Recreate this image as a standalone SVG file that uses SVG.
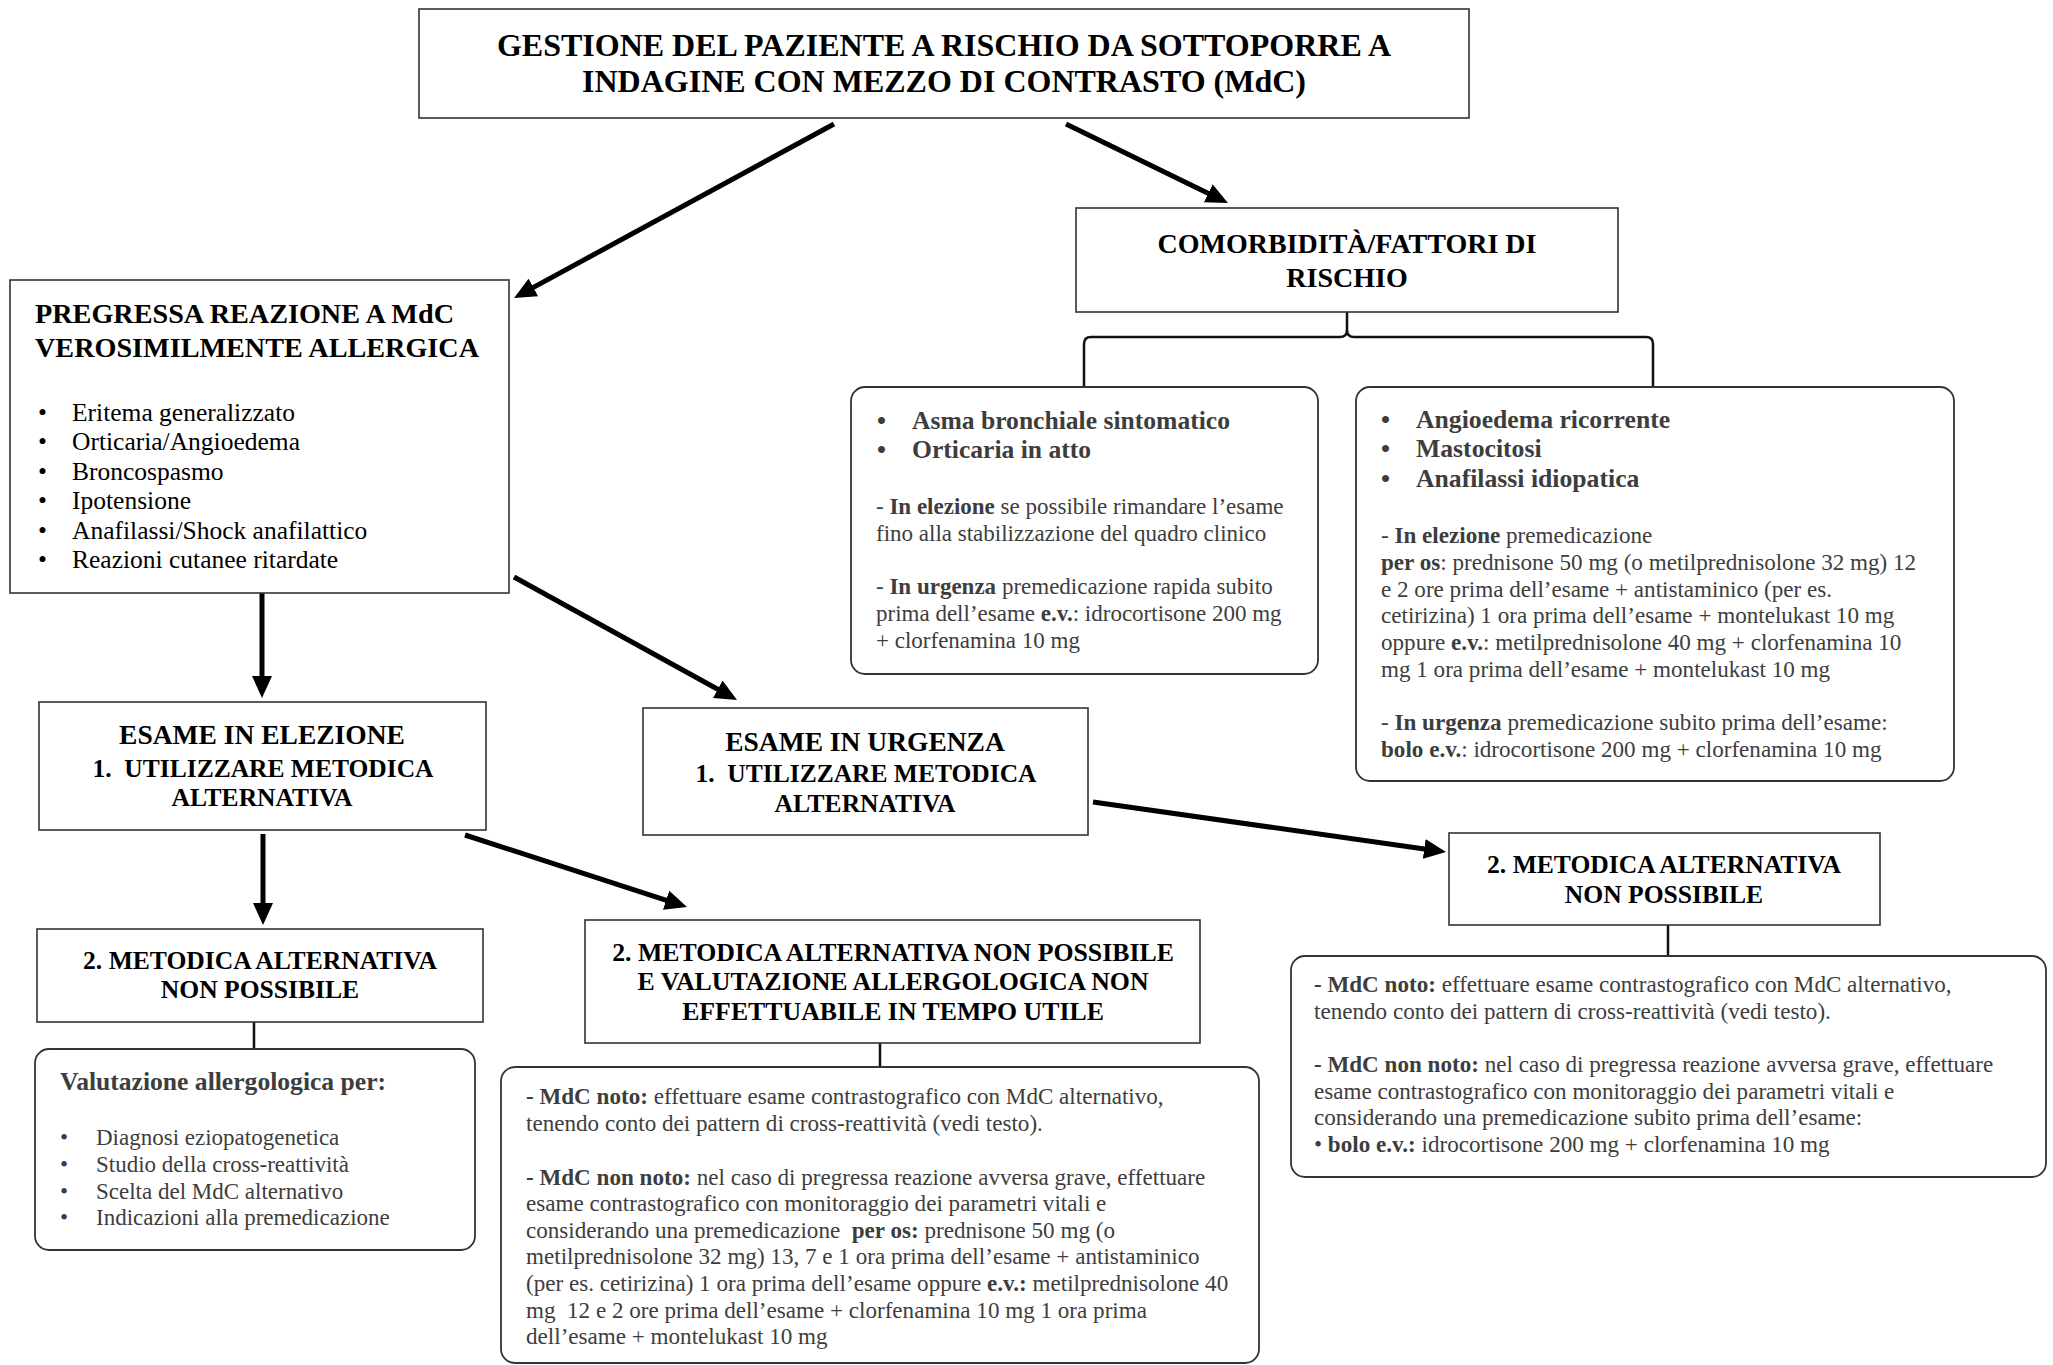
<svg xmlns="http://www.w3.org/2000/svg" width="2053" height="1365" viewBox="0 0 2053 1365">
<defs>
<style>
.box{fill:#fff;stroke:#333;stroke-width:1.6}
.rbox{fill:#fff;stroke:#333;stroke-width:1.8}
.h{font-family:"Liberation Serif","Times New Roman",serif;font-weight:bold;fill:#000}
.b{font-family:"Liberation Serif","Times New Roman",serif;fill:#3d3d3d}
.bb{font-weight:bold}
.c{text-anchor:middle}
.arr{stroke:#000;stroke-width:5;fill:none;marker-end:url(#ah)}
.ln{stroke:#111;stroke-width:2.5;fill:none}
</style>
<marker id="ah" markerUnits="userSpaceOnUse" viewBox="0 0 22 20" markerWidth="22" markerHeight="20" refX="2" refY="10" orient="auto">
<path d="M0,0 L22,10 L0,20 z" fill="#000"/>
</marker>
</defs>
<rect width="2053" height="1365" fill="#fff"/>

<g id="connectors">
<line class="arr" x1="834" y1="124" x2="531.6" y2="288.4"/>
<line class="arr" x1="1066" y1="124" x2="1210" y2="194.2"/>
<line class="arr" x1="262" y1="592" x2="262" y2="678"/>
<line class="arr" x1="514" y1="577" x2="719.5" y2="690.3"/>
<line class="arr" x1="263" y1="834" x2="263" y2="905"/>
<line class="arr" x1="465" y1="835" x2="668" y2="900.8"/>
<line class="arr" x1="1093" y1="802" x2="1426.2" y2="849.2"/>
<path class="ln" d="M1347,312 V330 Q1347,337 1340,337 H1091 Q1084,337 1084,344 V387"/>
<path class="ln" d="M1347,330 Q1347,337 1354,337 H1646 Q1653,337 1653,344 V387"/>
<line class="ln" x1="254" y1="1022" x2="254" y2="1049"/>
<line class="ln" x1="880" y1="1043" x2="880" y2="1067"/>
<line class="ln" x1="1668" y1="925" x2="1668" y2="956"/>
</g>

<g id="title">
<rect class="box" x="419" y="9" width="1050" height="109"/>
<text class="h c" font-size="32" x="944" y="56">GESTIONE DEL PAZIENTE A RISCHIO DA SOTTOPORRE A</text>
<text class="h c" font-size="32" x="944" y="92">INDAGINE CON MEZZO DI CONTRASTO (MdC)</text>
</g>

<g id="comorbidita">
<rect class="box" x="1076" y="208" width="542" height="104"/>
<text class="h c" font-size="28" x="1347" y="253">COMORBIDITÀ/FATTORI DI</text>
<text class="h c" font-size="28" x="1347" y="287">RISCHIO</text>
</g>

<g id="pregressa">
<rect class="box" x="10" y="280" width="499" height="313"/>
<text class="h" font-size="28.2" x="35" y="323">PREGRESSA REAZIONE A MdC</text>
<text class="h" font-size="28.2" x="35" y="357">VEROSIMILMENTE ALLERGICA</text>
<g font-family="Liberation Serif, Times New Roman, serif" font-size="25.5" fill="#000">
<text x="38" y="421">•</text><text x="72" y="421">Eritema generalizzato</text>
<text x="38" y="450">•</text><text x="72" y="450">Orticaria/Angioedema</text>
<text x="38" y="480">•</text><text x="72" y="480">Broncospasmo</text>
<text x="38" y="509">•</text><text x="72" y="509">Ipotensione</text>
<text x="38" y="539">•</text><text x="72" y="539">Anafilassi/Shock anafilattico</text>
<text x="38" y="568">•</text><text x="72" y="568">Reazioni cutanee ritardate</text>
</g>
</g>

<g id="asma">
<rect class="rbox" x="851" y="387" width="467" height="287" rx="14"/>
<text class="b bb" font-size="25.6" x="877" y="429">•</text><text class="b bb" font-size="25.6" x="912" y="429">Asma bronchiale sintomatico</text>
<text class="b bb" font-size="25.6" x="877" y="458">•</text><text class="b bb" font-size="25.6" x="912" y="458">Orticaria in atto</text>
<g class="b" font-size="23">
<text x="876" y="514">- <tspan class="bb">In elezione</tspan> se possibile rimandare l’esame</text>
<text x="876" y="541">fino alla stabilizzazione del quadro clinico</text>
<text x="876" y="594">- <tspan class="bb">In urgenza</tspan> premedicazione rapida subito</text>
<text x="876" y="621">prima dell’esame <tspan class="bb">e.v.</tspan>: idrocortisone 200 mg</text>
<text x="876" y="648">+ clorfenamina 10 mg</text>
</g>
</g>

<g id="angioedema">
<rect class="rbox" x="1356" y="387" width="598" height="394" rx="14"/>
<text class="b bb" font-size="25.7" x="1381" y="428">•</text><text class="b bb" font-size="25.7" x="1416" y="428">Angioedema ricorrente</text>
<text class="b bb" font-size="25.7" x="1381" y="457">•</text><text class="b bb" font-size="25.7" x="1416" y="457">Mastocitosi</text>
<text class="b bb" font-size="25.7" x="1381" y="487">•</text><text class="b bb" font-size="25.7" x="1416" y="487">Anafilassi idiopatica</text>
<g class="b" font-size="23.1">
<text x="1381" y="543">- <tspan class="bb">In elezione</tspan> premedicazione</text>
<text x="1381" y="570"><tspan class="bb">per os</tspan>: prednisone 50 mg (o metilprednisolone 32 mg) 12</text>
<text x="1381" y="597">e 2 ore prima dell’esame + antistaminico (per es.</text>
<text x="1381" y="623">cetirizina) 1 ora prima dell’esame + montelukast 10 mg</text>
<text x="1381" y="650">oppure <tspan class="bb">e.v.</tspan>: metilprednisolone 40 mg + clorfenamina 10</text>
<text x="1381" y="677">mg 1 ora prima dell’esame + montelukast 10 mg</text>
<text x="1381" y="730">- <tspan class="bb">In urgenza</tspan> premedicazione subito prima dell’esame:</text>
<text x="1381" y="757"><tspan class="bb">bolo e.v.</tspan>: idrocortisone 200 mg + clorfenamina 10 mg</text>
</g>
</g>

<g id="esame-elezione">
<rect class="box" x="39" y="702" width="447" height="128"/>
<text class="h c" font-size="27.5" x="262" y="744">ESAME IN ELEZIONE</text>
<text class="h c" font-size="25.5" x="263" y="777" xml:space="preserve">1.  UTILIZZARE METODICA</text>
<text class="h c" font-size="25.5" x="262" y="806">ALTERNATIVA</text>
</g>

<g id="esame-urgenza">
<rect class="box" x="643" y="708" width="445" height="127"/>
<text class="h c" font-size="27.5" x="865" y="751">ESAME IN URGENZA</text>
<text class="h c" font-size="25.5" x="866" y="782" xml:space="preserve">1.  UTILIZZARE METODICA</text>
<text class="h c" font-size="25.5" x="865" y="812">ALTERNATIVA</text>
</g>

<g id="metodica-sx">
<rect class="box" x="37" y="929" width="446" height="93"/>
<text class="h c" font-size="25.6" x="260" y="969">2. METODICA ALTERNATIVA</text>
<text class="h c" font-size="25.6" x="260" y="998">NON POSSIBILE</text>
</g>

<g id="valutazione">
<rect class="rbox" x="35" y="1049" width="440" height="201" rx="14"/>
<text class="b bb" font-size="25.6" x="60" y="1090">Valutazione allergologica per:</text>
<g class="b" font-size="23">
<text x="60" y="1145">•</text><text x="96" y="1145">Diagnosi eziopatogenetica</text>
<text x="60" y="1172">•</text><text x="96" y="1172">Studio della cross-reattività</text>
<text x="60" y="1199">•</text><text x="96" y="1199">Scelta del MdC alternativo</text>
<text x="60" y="1225">•</text><text x="96" y="1225">Indicazioni alla premedicazione</text>
</g>
</g>

<g id="metodica-centro">
<rect class="box" x="585" y="920" width="615" height="123"/>
<text class="h c" font-size="25.8" x="893" y="961">2. METODICA ALTERNATIVA NON POSSIBILE</text>
<text class="h c" font-size="25.8" x="893" y="990">E VALUTAZIONE ALLERGOLOGICA NON</text>
<text class="h c" font-size="25.8" x="893" y="1020">EFFETTUABILE IN TEMPO UTILE</text>
</g>

<g id="mdc-centro">
<rect class="rbox" x="501" y="1067" width="758" height="296" rx="14"/>
<g class="b" font-size="23.1">
<text x="526" y="1104"><tspan class="bb">- MdC noto:</tspan> effettuare esame contrastografico con MdC alternativo,</text>
<text x="526" y="1131">tenendo conto dei pattern di cross-reattività (vedi testo).</text>
<text x="526" y="1185"><tspan class="bb">- MdC non noto:</tspan> nel caso di pregressa reazione avversa grave, effettuare</text>
<text x="526" y="1211">esame contrastografico con monitoraggio dei parametri vitali e</text>
<text x="526" y="1238" xml:space="preserve">considerando una premedicazione  <tspan class="bb">per os:</tspan> prednisone 50 mg (o</text>
<text x="526" y="1264">metilprednisolone 32 mg) 13, 7 e 1 ora prima dell’esame + antistaminico</text>
<text x="526" y="1291">(per es. cetirizina) 1 ora prima dell’esame oppure <tspan class="bb">e.v.:</tspan> metilprednisolone 40</text>
<text x="526" y="1318" xml:space="preserve">mg  12 e 2 ore prima dell’esame + clorfenamina 10 mg 1 ora prima</text>
<text x="526" y="1344">dell’esame + montelukast 10 mg</text>
</g>
</g>

<g id="metodica-dx">
<rect class="box" x="1449" y="833" width="431" height="92"/>
<text class="h c" font-size="25.6" x="1664" y="873">2. METODICA ALTERNATIVA</text>
<text class="h c" font-size="25.6" x="1664" y="903">NON POSSIBILE</text>
</g>

<g id="mdc-dx">
<rect class="rbox" x="1291" y="956" width="755" height="221" rx="14"/>
<g class="b" font-size="23.1">
<text x="1314" y="992"><tspan class="bb">- MdC noto:</tspan> effettuare esame contrastografico con MdC alternativo,</text>
<text x="1314" y="1019">tenendo conto dei pattern di cross-reattività (vedi testo).</text>
<text x="1314" y="1072"><tspan class="bb">- MdC non noto:</tspan> nel caso di pregressa reazione avversa grave, effettuare</text>
<text x="1314" y="1099">esame contrastografico con monitoraggio dei parametri vitali e</text>
<text x="1314" y="1125">considerando una premedicazione subito prima dell’esame:</text>
<text x="1314" y="1152">• <tspan class="bb">bolo e.v.:</tspan> idrocortisone 200 mg + clorfenamina 10 mg</text>
</g>
</g>
</svg>
